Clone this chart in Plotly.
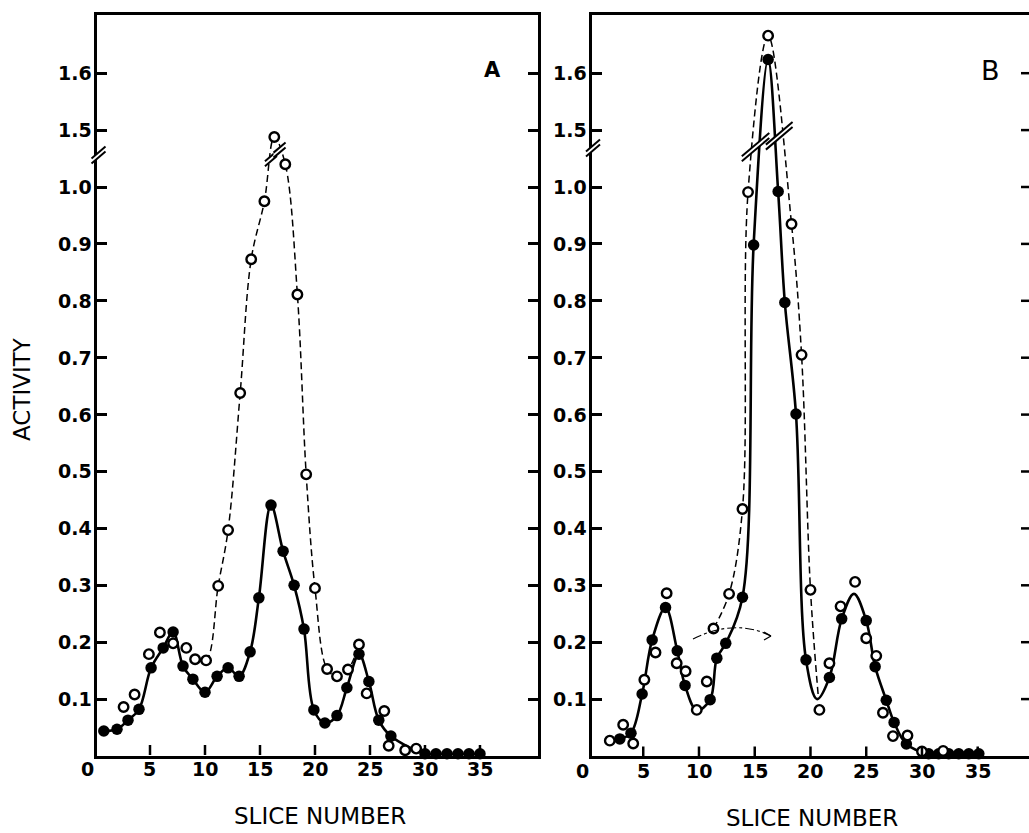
import numpy as np
import plotly.graph_objects as go

W, H = 1029, 833

# ---------------- data (slice number, activity) ----------------
# Panel A
a_filled_x = [0.8, 2.0, 3.0, 4.0, 5.1, 6.2, 7.1, 8.0, 8.9, 10.0, 11.1, 12.1, 13.1, 14.1,
              14.9, 16.0, 17.1, 18.1, 19.0, 19.9, 20.9, 22.0, 22.9, 24.0, 24.9, 25.8, 26.9,
              30.0, 31.0, 32.0, 33.0, 34.0, 35.0]
a_filled_y = [0.044, 0.047, 0.063, 0.082, 0.155, 0.190, 0.218, 0.158, 0.135, 0.112, 0.140,
              0.155, 0.140, 0.183, 0.278, 0.441, 0.360, 0.300, 0.223, 0.081, 0.058, 0.071,
              0.120, 0.179, 0.131, 0.063, 0.035, 0.004, 0.004, 0.004, 0.004, 0.004, 0.004]
a_open_x = [2.6, 3.6, 4.9, 5.9, 7.1, 8.3, 9.1, 10.1, 11.2, 12.1, 13.2, 14.2, 15.4, 16.3,
            17.3, 18.4, 19.2, 20.0, 21.1, 22.0, 23.0, 24.0, 24.7, 26.3, 26.7, 28.2, 29.2]
a_open_y = [0.086, 0.108, 0.179, 0.217, 0.198, 0.190, 0.170, 0.168, 0.299, 0.397, 0.638,
            0.873, 0.975, 1.488, 1.040, 0.811, 0.495, 0.295, 0.153, 0.140, 0.152, 0.196,
            0.110, 0.079, 0.018, 0.010, 0.013]

# Panel B
b_filled_x = [2.9, 3.9, 4.9, 5.8, 7.0, 8.05, 8.75, 11.0, 11.6, 12.4, 13.9, 14.9, 16.2, 17.1,
              17.7, 18.7, 19.6, 21.7, 22.8, 25.0, 25.8, 26.8, 27.5, 28.6,
              30.6, 31.5, 32.4, 33.3, 34.2, 35.1]
b_filled_y = [0.030, 0.040, 0.109, 0.204, 0.261, 0.185, 0.124, 0.099, 0.172, 0.198, 0.279,
              0.898, 1.624, 0.992, 0.797, 0.601, 0.169, 0.138, 0.241, 0.238, 0.157, 0.098,
              0.059, 0.021, 0.004, 0.004, 0.004, 0.004, 0.004, 0.004]
b_open_x = [2.0, 3.2, 4.1, 5.1, 6.1, 7.1, 8.0, 8.8, 9.8, 10.7, 11.3, 12.7, 13.9, 14.4, 16.2,
            18.3, 19.2, 20.0, 20.8, 21.7, 22.7, 24.0, 25.0, 25.9, 26.5, 27.4, 28.7, 30.0, 31.9]
b_open_y = [0.027, 0.055, 0.022, 0.134, 0.182, 0.286, 0.163, 0.149, 0.081, 0.131, 0.224,
            0.285, 0.434, 0.991, 1.666, 0.935, 0.705, 0.292, 0.081, 0.163, 0.263, 0.306,
            0.207, 0.176, 0.076, 0.035, 0.036, 0.008, 0.009]

# hand-fitted curve passes through these extra knots in panel B
b_solid_knot_x = [9.8, 20.6, 23.9]
b_solid_knot_y = [0.080, 0.100, 0.285]
b_dash_end_x = [20.7]
b_dash_end_y = [0.105]

# tick labels
x_tick_vals = [0, 5, 10, 15, 20, 25, 30, 35]
y_tick_true = [0.1, 0.2, 0.3, 0.4, 0.5, 0.6, 0.7, 0.8, 0.9, 1.0, 1.5, 1.6]
y_tick_text = ["0.1", "0.2", "0.3", "0.4", "0.5", "0.6", "0.7", "0.8", "0.9", "1.0", "1.5", "1.6"]

# ---------------- broken y scale ----------------
GAP = 0.4  # values above the break are drawn 0.4 lower


def fold(v):
    v = np.asarray(v, dtype=float)
    return np.where(v > 1.3, v - GAP, v)


# pixel geometry of the two panels
XA = dict(p0=96.5, p1=537.5, r0=0.136, r1=40.23)
XB = dict(p0=592.0, p1=1029.0, r0=0.404, r1=39.6)
Y_BASE, Y_TOP, Y_PER = 756.0, 15.0, 569.0
Y_MAX = (Y_BASE - Y_TOP) / Y_PER


def xpix(ax, s):
    return ax["p0"] + (s - ax["r0"]) / (ax["r1"] - ax["r0"]) * (ax["p1"] - ax["p0"])


def ypix(v):
    return Y_BASE - v * Y_PER


def pp(px, py):
    return px / W, 1 - py / H


fig = go.Figure()


def add_panel(xa, ya, fx, fy, ox, oy, solid_x, solid_y, dash_x, dash_y):
    fig.add_trace(go.Scatter(x=solid_x, y=fold(solid_y), mode="lines", xaxis=xa, yaxis=ya,
                             line=dict(color="black", width=2.6, shape="spline", smoothing=1.0),
                             hoverinfo="skip", cliponaxis=False))
    fig.add_trace(go.Scatter(x=dash_x, y=fold(dash_y), mode="lines", xaxis=xa, yaxis=ya,
                             line=dict(color="black", width=1.5, dash="7px,4px",
                                       shape="spline", smoothing=1.0),
                             hoverinfo="skip", cliponaxis=False))
    fig.add_trace(go.Scatter(x=fx, y=fold(fy), mode="markers", xaxis=xa, yaxis=ya,
                             marker=dict(symbol="circle", size=11.5, color="black",
                                         line=dict(width=0)),
                             cliponaxis=False))
    fig.add_trace(go.Scatter(x=ox, y=fold(oy), mode="markers", xaxis=xa, yaxis=ya,
                             marker=dict(symbol="circle", size=9.5, color="white",
                                         line=dict(width=2.4, color="black")),
                             cliponaxis=False))


# panel A curves
a_dash = [(x, y) for x, y in zip(a_open_x, a_open_y) if 9.0 <= x <= 24.0]
add_panel("x", "y", a_filled_x, a_filled_y, a_open_x, a_open_y,
          a_filled_x, a_filled_y,
          [p[0] for p in a_dash], [p[1] for p in a_dash])

# panel B curves
b_solid = sorted(list(zip(b_filled_x, b_filled_y)) + list(zip(b_solid_knot_x, b_solid_knot_y)))
b_dash = [(x, y) for x, y in zip(b_open_x, b_open_y) if 11.0 <= x <= 20.0]
b_dash += list(zip(b_dash_end_x, b_dash_end_y))
add_panel("x2", "y2", b_filled_x, b_filled_y, b_open_x, b_open_y,
          [p[0] for p in b_solid], [p[1] for p in b_solid],
          [p[0] for p in b_dash], [p[1] for p in b_dash])

# ---------------- axes ----------------
y_dom = [(H - Y_BASE) / H, (H - Y_TOP) / H]


def xaxis_cfg(ax, anchor):
    return dict(domain=[ax["p0"] / W, min(ax["p1"] / W, 1.0)], range=[ax["r0"], ax["r1"]],
                anchor=anchor, showline=True, linewidth=3, linecolor="black", mirror=True,
                ticks="", showticklabels=False,
                showgrid=False, zeroline=False, fixedrange=True)


def yaxis_cfg(anchor, mirror):
    return dict(domain=y_dom, range=[0, Y_MAX], anchor=anchor, showline=True, linewidth=3,
                linecolor="black", mirror=mirror, ticks="inside", ticklen=10, tickwidth=2.5,
                tickcolor="black", tickvals=list(fold(y_tick_true)), showticklabels=False,
                showgrid=False, zeroline=False, fixedrange=True)


shapes = []
annotations = []


def seg(x0, y0, x1, y1, width=2.2, color="black", dash=None):
    a, b = pp(x0, y0)
    c, d = pp(x1, y1)
    line = dict(color=color, width=width)
    if dash:
        line["dash"] = dash
    shapes.append(dict(type="line", xref="paper", yref="paper", x0=a, y0=b, x1=c, y1=d,
                       line=line, layer="above"))


def break_mark(cx, cy, hw, gap=5.0, slope=0.85):
    # white band cut across the line(s), bounded by two parallel strokes
    pts = [(cx - hw, cy + hw * slope - gap / 2), (cx + hw, cy - hw * slope - gap / 2),
           (cx + hw, cy - hw * slope + gap / 2), (cx - hw, cy + hw * slope + gap / 2)]
    path = "M " + " L ".join("{:.5f},{:.5f}".format(*pp(x, y)) for x, y in pts) + " Z"
    shapes.append(dict(type="path", xref="paper", yref="paper", path=path,
                       fillcolor="white", line=dict(width=0), layer="above"))
    for off in (-gap / 2, gap / 2):
        seg(cx - hw, cy + hw * slope + off, cx + hw, cy - hw * slope + off, width=2.0)


def cross_x(xs, ys, level, lo, hi):
    # x where the straight segment between two marks crosses a folded level
    fy = fold(ys)
    for i in range(len(xs) - 1):
        if lo <= xs[i] <= hi and min(fy[i], fy[i + 1]) <= level <= max(fy[i], fy[i + 1]):
            t = (level - fy[i]) / (fy[i + 1] - fy[i])
            return xs[i] + t * (xs[i + 1] - xs[i])
    return None


def label(text, px, py, size, angle=0, weight="normal", anchor="center"):
    x, y = pp(px, py)
    annotations.append(dict(text=text, x=x, y=y, xref="paper", yref="paper", showarrow=False,
                            xanchor=anchor, yanchor="middle", textangle=angle,
                            font=dict(family="DejaVu Sans", size=size, color="black",
                                      weight=weight)))


# x ticks (pointing up into the panel) and their labels under the baseline
for ax, base, lab_y, zero_px in ((XA, 755.0, 769, 87), (XB, 756.5, 771, 582)):
    for v in x_tick_vals:
        if v > 0:
            px = xpix(ax, v)
            seg(px, base, px, base - 10, width=2.5)
            label(str(v), px, lab_y, 19, weight="bold")
        else:
            label("0", zero_px, lab_y, 19, weight="bold")

# y tick labels, set just left of each panel's axis
for right_px in (94.0, 589.0):
    for v, t in zip(fold(y_tick_true), y_tick_text):
        label(t, right_px, ypix(v), 19, weight="bold", anchor="right")

# axis breaks
break_mark(XA["p0"] + 2, 155, 7)
break_mark(XB["p0"] + 1, 148, 7)

# curve breaks, panel A
lv = 1.05
xa1 = cross_x(a_open_x, a_open_y, lv, 14.0, 16.0)
break_mark(xpix(XA, xa1), ypix(lv), 6)
lv = 1.065
xa2 = cross_x(a_open_x, a_open_y, lv, 16.0, 17.5)
break_mark(xpix(XA, xa2), ypix(lv), 6)

# curve breaks, panel B (one mark across both curves)
lv = 1.07
p1 = xpix(XB, cross_x(b_open_x, b_open_y, lv, 14.0, 16.0)) - 4
p2 = xpix(XB, cross_x(b_filled_x, b_filled_y, lv, 14.5, 16.0))
break_mark((p1 + p2) / 2, ypix(lv), (p2 - p1) / 2 + 8)
lv = 1.09
p1 = xpix(XB, cross_x(b_filled_x, b_filled_y, lv, 16.0, 17.5))
p2 = xpix(XB, cross_x(b_open_x, b_open_y, lv, 16.0, 18.5)) + 4
break_mark((p1 + p2) / 2, ypix(lv), (p2 - p1) / 2 + 8)

# right-hand ticks of panel B
for v in fold(y_tick_true):
    seg(W - 8, ypix(v), W, ypix(v), width=2.5)

# small hand-drawn arrow in panel B
ax0, ay0 = pp(693, 639)
axc, ayc = pp(735, 618)
ax1, ay1 = pp(771, 636)
shapes.append(dict(type="path", xref="paper", yref="paper",
                   path=f"M {ax0},{ay0} Q {axc},{ayc} {ax1},{ay1}",
                   line=dict(color="black", width=1.1, dash="dashdot"), layer="above"))
seg(771, 636, 764, 632, width=1.2)
seg(771, 636, 764, 640, width=1.2)

label("A", 492, 70, 21, weight="bold")
label("B", 990, 71, 27)
label("ACTIVITY", 22, 389, 23, angle=-90)
label("SLICE NUMBER", 320, 816, 23)
label("SLICE NUMBER", 812, 818, 23)

fig.update_layout(
    width=W, height=H, margin=dict(l=0, r=0, t=0, b=0),
    paper_bgcolor="white", plot_bgcolor="white", showlegend=False,
    xaxis=xaxis_cfg(XA, "y"), yaxis=yaxis_cfg("x", "ticks"),
    xaxis2=xaxis_cfg(XB, "y2"), yaxis2=yaxis_cfg("x2", False),
    shapes=shapes, annotations=annotations,
)

fig.write_html("out.html")
